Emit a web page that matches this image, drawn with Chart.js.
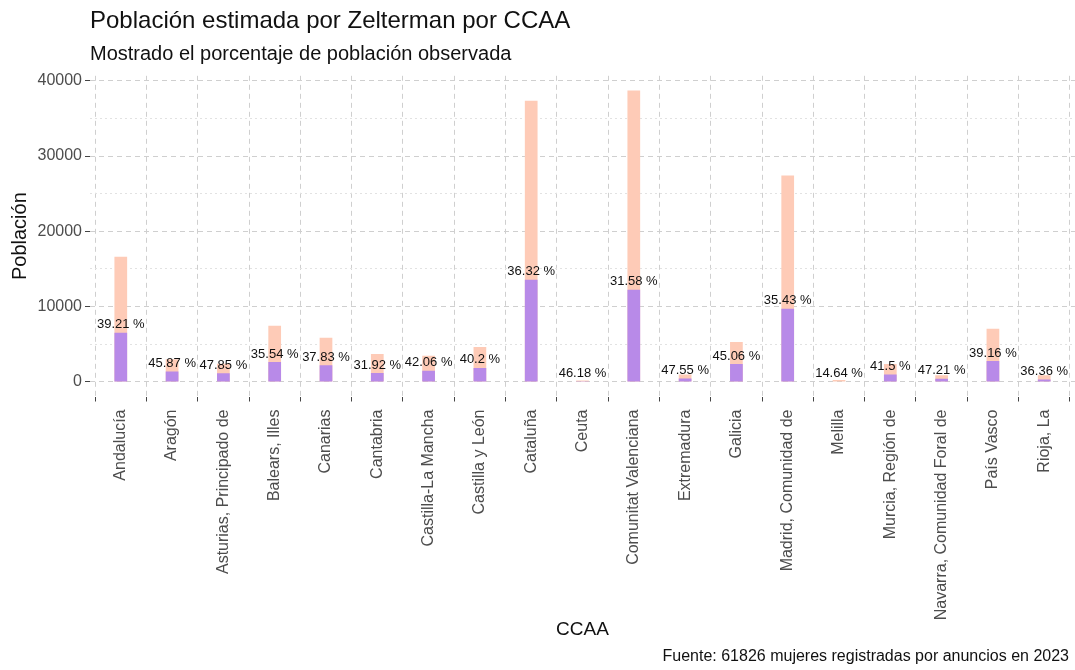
<!DOCTYPE html>
<html lang="es">
<head>
  <meta charset="UTF-8" />
  <title>Población estimada por Zelterman por CCAA</title>
  <script src="https://cdn.jsdelivr.net/npm/chart.js"></script>
  <style>
    body {
      margin: 0;
      padding: 0;
      background: #fff;
    }

    .chart-container {
      width: 1075px;
      height: 670px;
      position: relative;
    }
  </style>
</head>
<body>
  <div class="chart-container">
    <canvas id="ccaaChart"></canvas>
  </div>

  <script>
    // Comunidades autónomas (eje X)
    const ccaa = [
      'Andalucía', 'Aragón', 'Asturias, Principado de', 'Balears, Illes', 'Canarias',
      'Cantabria', 'Castilla-La Mancha', 'Castilla y León', 'Cataluña', 'Ceuta',
      'Comunitat Valenciana', 'Extremadura', 'Galicia', 'Madrid, Comunidad de', 'Melilla',
      'Murcia, Región de', 'Navarra, Comunidad Foral de', 'País Vasco', 'Rioja, La'
    ];
    // Población estimada (Zelterman)
    const estimada = [
      16630, 3010, 2400, 7450, 5870,
      3700, 3490, 4630, 37350, 185,
      38720, 990, 5300, 27430, 270,
      2380, 890, 7070, 900
    ];
    // Población observada
    const observada = [
      6520, 1380, 1150, 2650, 2220,
      1180, 1470, 1860, 13560, 85,
      12230, 470, 2390, 9720, 40,
      990, 420, 2770, 330
    ];
    // Porcentaje observado sobre estimado
    const porcentaje = [
      39.21, 45.87, 47.85, 35.54, 37.83,
      31.92, 42.06, 40.2, 36.32, 46.18,
      31.58, 47.55, 45.06, 35.43, 14.64,
      41.5, 47.21, 39.16, 36.36
    ];
    const yTicks = [0, 10000, 20000, 30000, 40000];
    const yMinorTicks = [5000, 15000, 25000, 35000];

    const fontFamily = "'Liberation Sans', Arial, sans-serif";

    // posición numérica de cada categoría (1..n)
    const posiciones = ccaa.map((c, i) => i + 1);
    const puntos = (valores) => valores.map((v, i) => ({ x: posiciones[i], y: v }));

    // etiquetas de porcentaje encima de la barra observada
    const etiquetasPorcentaje = {
      id: 'etiquetasPorcentaje',
      afterDatasetsDraw(chart) {
        const meta = chart.getDatasetMeta(0);
        const ctx = chart.ctx;
        ctx.save();
        ctx.font = '13px ' + fontFamily;
        ctx.fillStyle = '#111';
        ctx.textAlign = 'center';
        ctx.textBaseline = 'middle';
        meta.data.forEach((bar, i) => {
          ctx.fillText(porcentaje[i] + ' %', bar.x, bar.y - 8);
        });
        ctx.restore();
      }
    };

    // pie de figura
    const fuente = {
      id: 'fuente',
      afterDraw(chart) {
        const ctx = chart.ctx;
        ctx.save();
        ctx.font = '16px ' + fontFamily;
        ctx.fillStyle = '#111';
        ctx.textAlign = 'right';
        ctx.textBaseline = 'middle';
        ctx.fillText('Fuente: 61826 mujeres registradas por anuncios en 2023', chart.width - 6, chart.height - 13);
        ctx.restore();
      }
    };

    const esMayor = (c) => c.tick && yTicks.includes(c.tick.value);

    const config = {
      type: 'bar',
      data: {
        datasets: [
          {
            label: 'Observada',
            data: puntos(observada),
            backgroundColor: '#B88AE8',
            grouped: false,
            barPercentage: 0.31
          },
          {
            label: 'Estimada',
            data: puntos(estimada),
            backgroundColor: '#FECBB7',
            grouped: false,
            barPercentage: 0.31
          }
        ]
      },
      options: {
        responsive: true,
        maintainAspectRatio: false,
        animation: false,
        layout: {
          padding: { left: 0, right: 0, top: 0, bottom: 25 }
        },
        plugins: {
          legend: { display: false },
          tooltip: { enabled: false },
          title: {
            display: true,
            text: 'Población estimada por Zelterman por CCAA',
            align: 'start',
            fullSize: false,
            color: '#111',
            font: { family: fontFamily, size: 24, weight: 'normal', lineHeight: 1.2 },
            padding: { top: 7, bottom: 4 }
          },
          subtitle: {
            display: true,
            text: 'Mostrado el porcentaje de población observada',
            align: 'start',
            fullSize: false,
            color: '#111',
            font: { family: fontFamily, size: 20, weight: 'normal', lineHeight: 1.2 },
            padding: { top: 3, bottom: 9 }
          }
        },
        scales: {
          x: {
            type: 'linear',
            min: 0.4,
            max: ccaa.length + 0.6,
            offset: false,
            afterBuildTicks(scale) {
              scale.ticks = posiciones.map(v => ({ value: v }));
            },
            afterFit(scale) {
              scale.height = 248.5;
            },
            border: { display: false, dash: [5, 4] },
            grid: {
              color: '#cfcfcf',
              tickBorderDash: [],
              tickColor: '#444',
              tickLength: 5
            },
            ticks: {
              autoSkip: false,
              maxRotation: 90,
              minRotation: 90,
              padding: 8,
              color: '#4d4d4d',
              font: { family: fontFamily, size: 16 },
              callback: (v) => ccaa[Math.round(v) - 1]
            },
            title: {
              display: true,
              text: 'CCAA',
              color: '#111',
              font: { family: fontFamily, size: 19 },
              padding: { top: 0, bottom: 4 }
            }
          },
          y: {
            min: -1936,
            max: 40656,
            afterBuildTicks(scale) {
              scale.ticks = yTicks.concat(yMinorTicks).sort((a, b) => a - b).map(v => ({ value: v }));
            },
            afterFit(scale) {
              scale.width = 90;
            },
            border: {
              display: false,
              dash: (c) => esMayor(c) ? [5, 4] : [2, 3]
            },
            grid: {
              color: (c) => esMayor(c) ? '#cfcfcf' : '#e2e2e2',
              tickBorderDash: [],
              tickColor: (c) => esMayor(c) ? '#444' : 'rgba(0,0,0,0)',
              tickLength: 5
            },
            ticks: {
              padding: 3,
              color: '#4d4d4d',
              font: { family: fontFamily, size: 16 },
              callback: (v) => yTicks.includes(v) ? String(v) : ''
            },
            title: {
              display: true,
              text: 'Población',
              color: '#111',
              font: { family: fontFamily, size: 20 },
              padding: { top: 8, bottom: 0 }
            }
          }
        }
      },
      plugins: [etiquetasPorcentaje, fuente]
    };

    const ctx = document.getElementById('ccaaChart').getContext('2d');
    new Chart(ctx, config);
  </script>
</body>
</html>
